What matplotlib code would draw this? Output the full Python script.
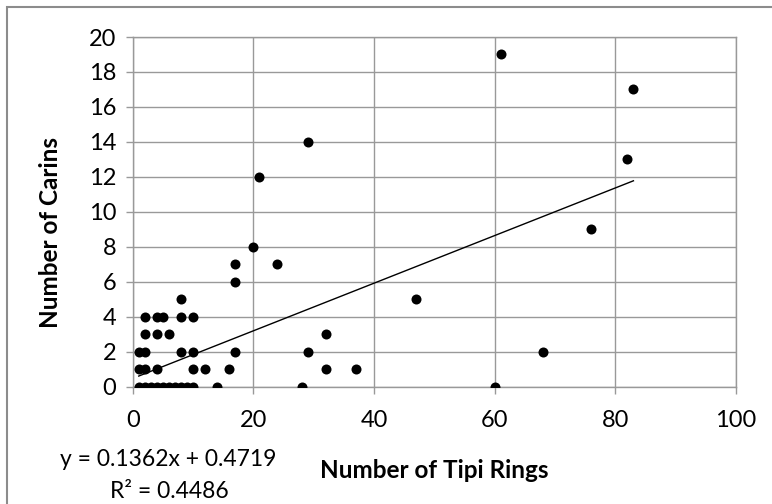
import numpy as np
import matplotlib
matplotlib.use("Agg")
from matplotlib import pyplot as plt
from matplotlib.patches import Rectangle

# tipi rings (x) vs carins (y)
tipi_rings = [1, 2, 3, 4, 5, 6, 7, 8, 9, 10, 14, 28, 60,
              1, 2, 4, 10, 12, 16, 32, 37,
              1, 2, 8, 10, 17, 29, 68,
              2, 4, 6, 32,
              2, 4, 5, 8, 10,
              8, 47,
              17,
              17, 24,
              20,
              76,
              21,
              82,
              29,
              83,
              61]
carins = [0, 0, 0, 0, 0, 0, 0, 0, 0, 0, 0, 0, 0,
          1, 1, 1, 1, 1, 1, 1, 1,
          2, 2, 2, 2, 2, 2, 2,
          3, 3, 3, 3,
          4, 4, 4, 4, 4,
          5, 5,
          6,
          7, 7,
          8,
          9,
          12,
          13,
          14,
          17,
          19]

slope = 0.1362
intercept = 0.4719
r_squared = 0.4486

plt.rcParams['font.family'] = ['Lato', 'DejaVu Sans']
W, H = 772, 504
fig = plt.figure(figsize=(W / 100, H / 100), dpi=100)

# plot area in pixels: x 132.7..736, y 37..386.7
ax = fig.add_axes([132.7 / W, 1 - 386.7 / H, (736 - 132.7) / W, (386.7 - 37) / H])

grid_c = '#999999'
ax.scatter(tipi_rings, carins, s=52, color='black', zorder=3, linewidths=0)

xs = np.array([min(tipi_rings), max(tipi_rings)])
ax.plot(xs, slope * xs + intercept, color='black', lw=1.0, zorder=2)

ax.set_xlim(0, 100)
ax.set_ylim(0, 20)
ax.set_xticks(range(0, 101, 20))
ax.set_yticks(range(0, 21, 2))
ax.grid(True, color=grid_c, lw=1.0)
ax.set_axisbelow(True)
for sp in ax.spines.values():
    sp.set_color(grid_c)
    sp.set_linewidth(1.0)
ax.tick_params(axis='both', colors=grid_c, labelcolor='black', labelsize=17,
               length=5, width=1.0, direction='out')
ax.tick_params(axis='x', pad=12)
ax.tick_params(axis='y', pad=7)

fig.text(434.5 / W, 1 - 471 / H, 'Number of Tipi Rings', ha='center', va='center',
         fontsize=17.5, fontweight='bold')
fig.text(51 / W, 1 - 233 / H, 'Number of Carins', ha='center', va='center',
         fontsize=17.5, fontweight='bold', rotation=90)

fig.text(168 / W, 1 - 460 / H, 'y = %.4fx + %.4f' % (slope, intercept),
         ha='center', va='center', fontsize=16.5)
fig.text(169 / W, 1 - 491.5 / H, 'R² = %.4f' % r_squared,
         ha='center', va='center', fontsize=16.5)

# chart outer border (runs off right and bottom edges)
fig.patches.append(Rectangle((7 / W, -0.05), 1.0, 1 - 7 / H + 0.05,
                             transform=fig.transFigure, fill=False,
                             edgecolor='#8c8c8c', lw=1.5))

fig.savefig('out.png', dpi=100)
